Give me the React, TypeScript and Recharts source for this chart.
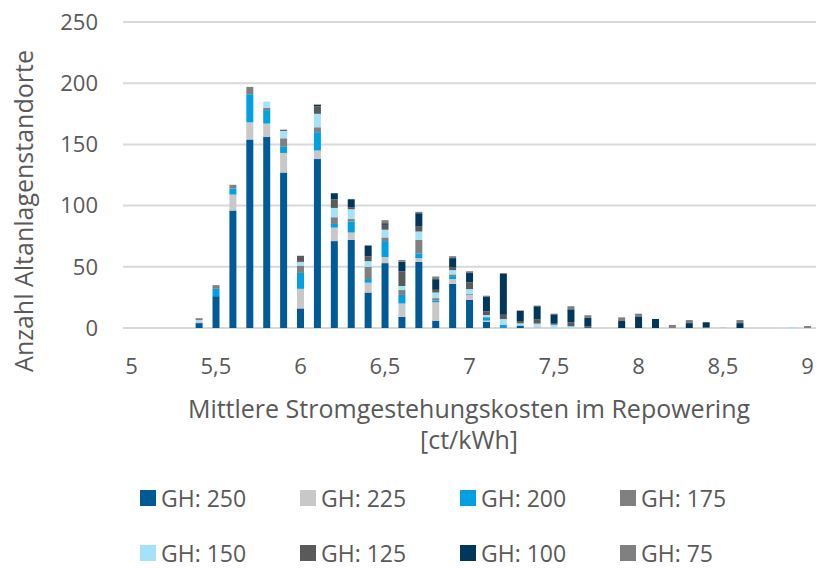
import React from 'react';
import { BarChart, Bar, XAxis, YAxis, CartesianGrid, Legend } from 'recharts';

// Bin centres (ct/kWh)
const bins = [
  5.4, 5.5, 5.6, 5.7, 5.8, 5.9, 6.0, 6.1, 6.2, 6.3, 6.4, 6.5, 6.6, 6.7, 6.8, 6.9, 7.0, 7.1, 7.2,
  7.3, 7.4, 7.5, 7.6, 7.7, 7.8, 7.9, 8.0, 8.1, 8.2, 8.3, 8.4, 8.5, 8.6, 8.7, 8.8, 8.9, 9.0
];

const gh250 = [4, 26, 96, 154, 156, 127, 16, 138, 71, 72, 29, 53, 9, 54, 6, 36, 23, 5, 0.5, 2, 0, 0, 0, 0, 0, 0, 0, 0, 0, 0, 0, 0, 0, 0, 0, 0, 0];
const gh225 = [1, 0, 13, 14, 11, 16, 16, 7, 11, 6, 8, 5, 11, 3, 15, 4, 4, 1, 0, 0, 1.4, 0, 0, 0, 0, 0, 0, 0, 0, 0, 0, 0.8, 0, 0, 0, 0, 0];
const gh200 = [0, 6, 5, 23, 11, 5, 13, 15, 3, 9, 3, 13, 7, 4, 1.4, 2.4, 0.5, 2.5, 2.2, 0, 0, 0, 0, 0, 0, 0, 0, 0, 0, 0, 0, 0, 0, 0, 0, 0, 0];
const gh175 = [0, 3, 3, 6, 2, 7, 6, 4, 5.5, 2, 10, 3, 4, 11, 2, 1.4, 0.5, 0.5, 0, 0, 0, 0, 0, 0, 0, 0, 0, 0, 0, 0, 0, 0, 0, 0, 0, 0, 0];
const gh150 = [1.5, 0, 0, 0, 5, 6, 3, 11, 7.6, 8, 4.6, 6.3, 3.3, 6.8, 4.6, 3.5, 3.8, 1.6, 4.6, 1.8, 2.2, 2.7, 1.4, 0, 0, 0, 0, 0, 0, 0, 0.3, 0, 0, 0, 0, 0.8, 0];
const gh125 = [0, 0, 0, 0, 0, 1, 5, 6, 7, 1.4, 3.8, 4, 12, 4, 2.2, 2.5, 5.5, 3, 3.5, 1.9, 3.3, 1.4, 3.3, 1.4, 0, 0, 0, 0, 0, 0, 0, 0, 0, 0, 0, 0, 0];
const gh100 = [0, 0, 0, 0, 0, 0, 0, 1.5, 5, 6.8, 9, 1.3, 7.9, 11, 8.7, 7.3, 7.6, 11.7, 33.3, 8.2, 10.9, 7.1, 10.6, 6.8, 0, 5.7, 9, 7.4, 0, 4, 4.4, 0, 4, 0, 0, 0, 0];
const gh75 = [1.5, 0, 0, 0, 0, 0, 0, 0, 0, 0, 0, 2.5, 1.4, 1.1, 2.2, 1.6, 1.5, 1.1, 0.8, 0.5, 0.5, 0.5, 2.5, 2.2, 0, 3, 2.7, 0, 2.5, 2.5, 0, 0, 2.5, 0, 0, 0, 1.6];

const xTicks = [5, 5.5, 6, 6.5, 7, 7.5, 8, 8.5, 9];
const yTicks = [0, 50, 100, 150, 200, 250];

const series = [
  { key: 'GH: 250', values: gh250, color: '#005A96' },
  { key: 'GH: 225', values: gh225, color: '#C8C8C8' },
  { key: 'GH: 200', values: gh200, color: '#00A0E3' },
  { key: 'GH: 175', values: gh175, color: '#808080' },
  { key: 'GH: 150', values: gh150, color: '#A6E1FA' },
  { key: 'GH: 125', values: gh125, color: '#5A5A5A' },
  { key: 'GH: 100', values: gh100, color: '#00375A' },
  { key: 'GH: 75', values: gh75, color: '#808080' }
];

const data = bins.map((x, i) => {
  const row: { [k: string]: number } = { x };
  series.forEach(s => { row[s.key] = s.values[i]; });
  return row;
});

const FONT = '"Open Sans", sans-serif';
const TEXT = '#595959';

const formatTick = (v: number) => String(v).replace('.', ',');

const XTitle = () => (
  <g>
    <text x={469} y={418} textAnchor="middle" fill={TEXT} fontSize={25} fontFamily={FONT}>
      Mittlere Stromgestehungskosten im Repowering
    </text>
    <text x={469} y={449} textAnchor="middle" fill={TEXT} fontSize={25} fontFamily={FONT}>
      [ct/kWh]
    </text>
  </g>
);

const YTitle = () => (
  <text
    x={0}
    y={0}
    transform="translate(33, 211) rotate(-90)"
    textAnchor="middle"
    fill={TEXT}
    fontSize={25}
    fontFamily={FONT}
  >
    Anzahl Altanlagenstandorte
  </text>
);

const LegendBox = () => (
  <div style={{ position: 'relative', width: 822, height: 108, fontFamily: FONT }}>
    {series.map((s, i) => (
      <div
        key={s.key}
        style={{
          position: 'absolute',
          left: 140 + (i % 4) * 160,
          top: Math.floor(i / 4) * 55,
          height: 54,
          display: 'flex',
          alignItems: 'center',
          fontSize: 23,
          color: TEXT,
          whiteSpace: 'nowrap'
        }}
      >
        <span style={{ width: 16, height: 16, backgroundColor: s.color, marginRight: 5, display: 'inline-block' }} />
        {s.key}
      </div>
    ))}
  </div>
);

export default function App() {
  return (
    <div style={{ position: 'absolute', left: 0, top: 0, width: 822, height: 568, background: '#fff' }}>
      <BarChart
        width={822}
        height={568}
        data={data}
        margin={{ top: 22, right: 6, left: 0, bottom: 0 }}
        barSize={7}
      >
        <CartesianGrid vertical={false} stroke="#D9D9D9" strokeWidth={2} />
        <XAxis
          dataKey="x"
          type="number"
          domain={[4.95, 9.05]}
          ticks={xTicks}
          allowDataOverflow
          tickFormatter={formatTick}
          axisLine={false}
          tickLine={false}
          tickSize={0}
          tickMargin={30}
          height={240}
          tick={{ fill: TEXT, fontSize: 22, fontFamily: FONT }}
          label={{ content: () => <XTitle /> }}
        />
        <YAxis
          domain={[0, 250]}
          ticks={yTicks}
          axisLine={false}
          tickLine={false}
          tickSize={0}
          tickMargin={25}
          width={123}
          tick={{ fill: TEXT, fontSize: 22, fontFamily: FONT }}
          label={{ content: () => <YTitle /> }}
        />
        <Legend
          layout="horizontal"
          verticalAlign="middle"
          wrapperStyle={{ top: 471, left: 0, width: 822 }}
          content={() => <LegendBox />}
        />
        {series.map(s => (
          <Bar key={s.key} dataKey={s.key} stackId="a" fill={s.color} isAnimationActive={false} />
        ))}
      </BarChart>
    </div>
  );
}
